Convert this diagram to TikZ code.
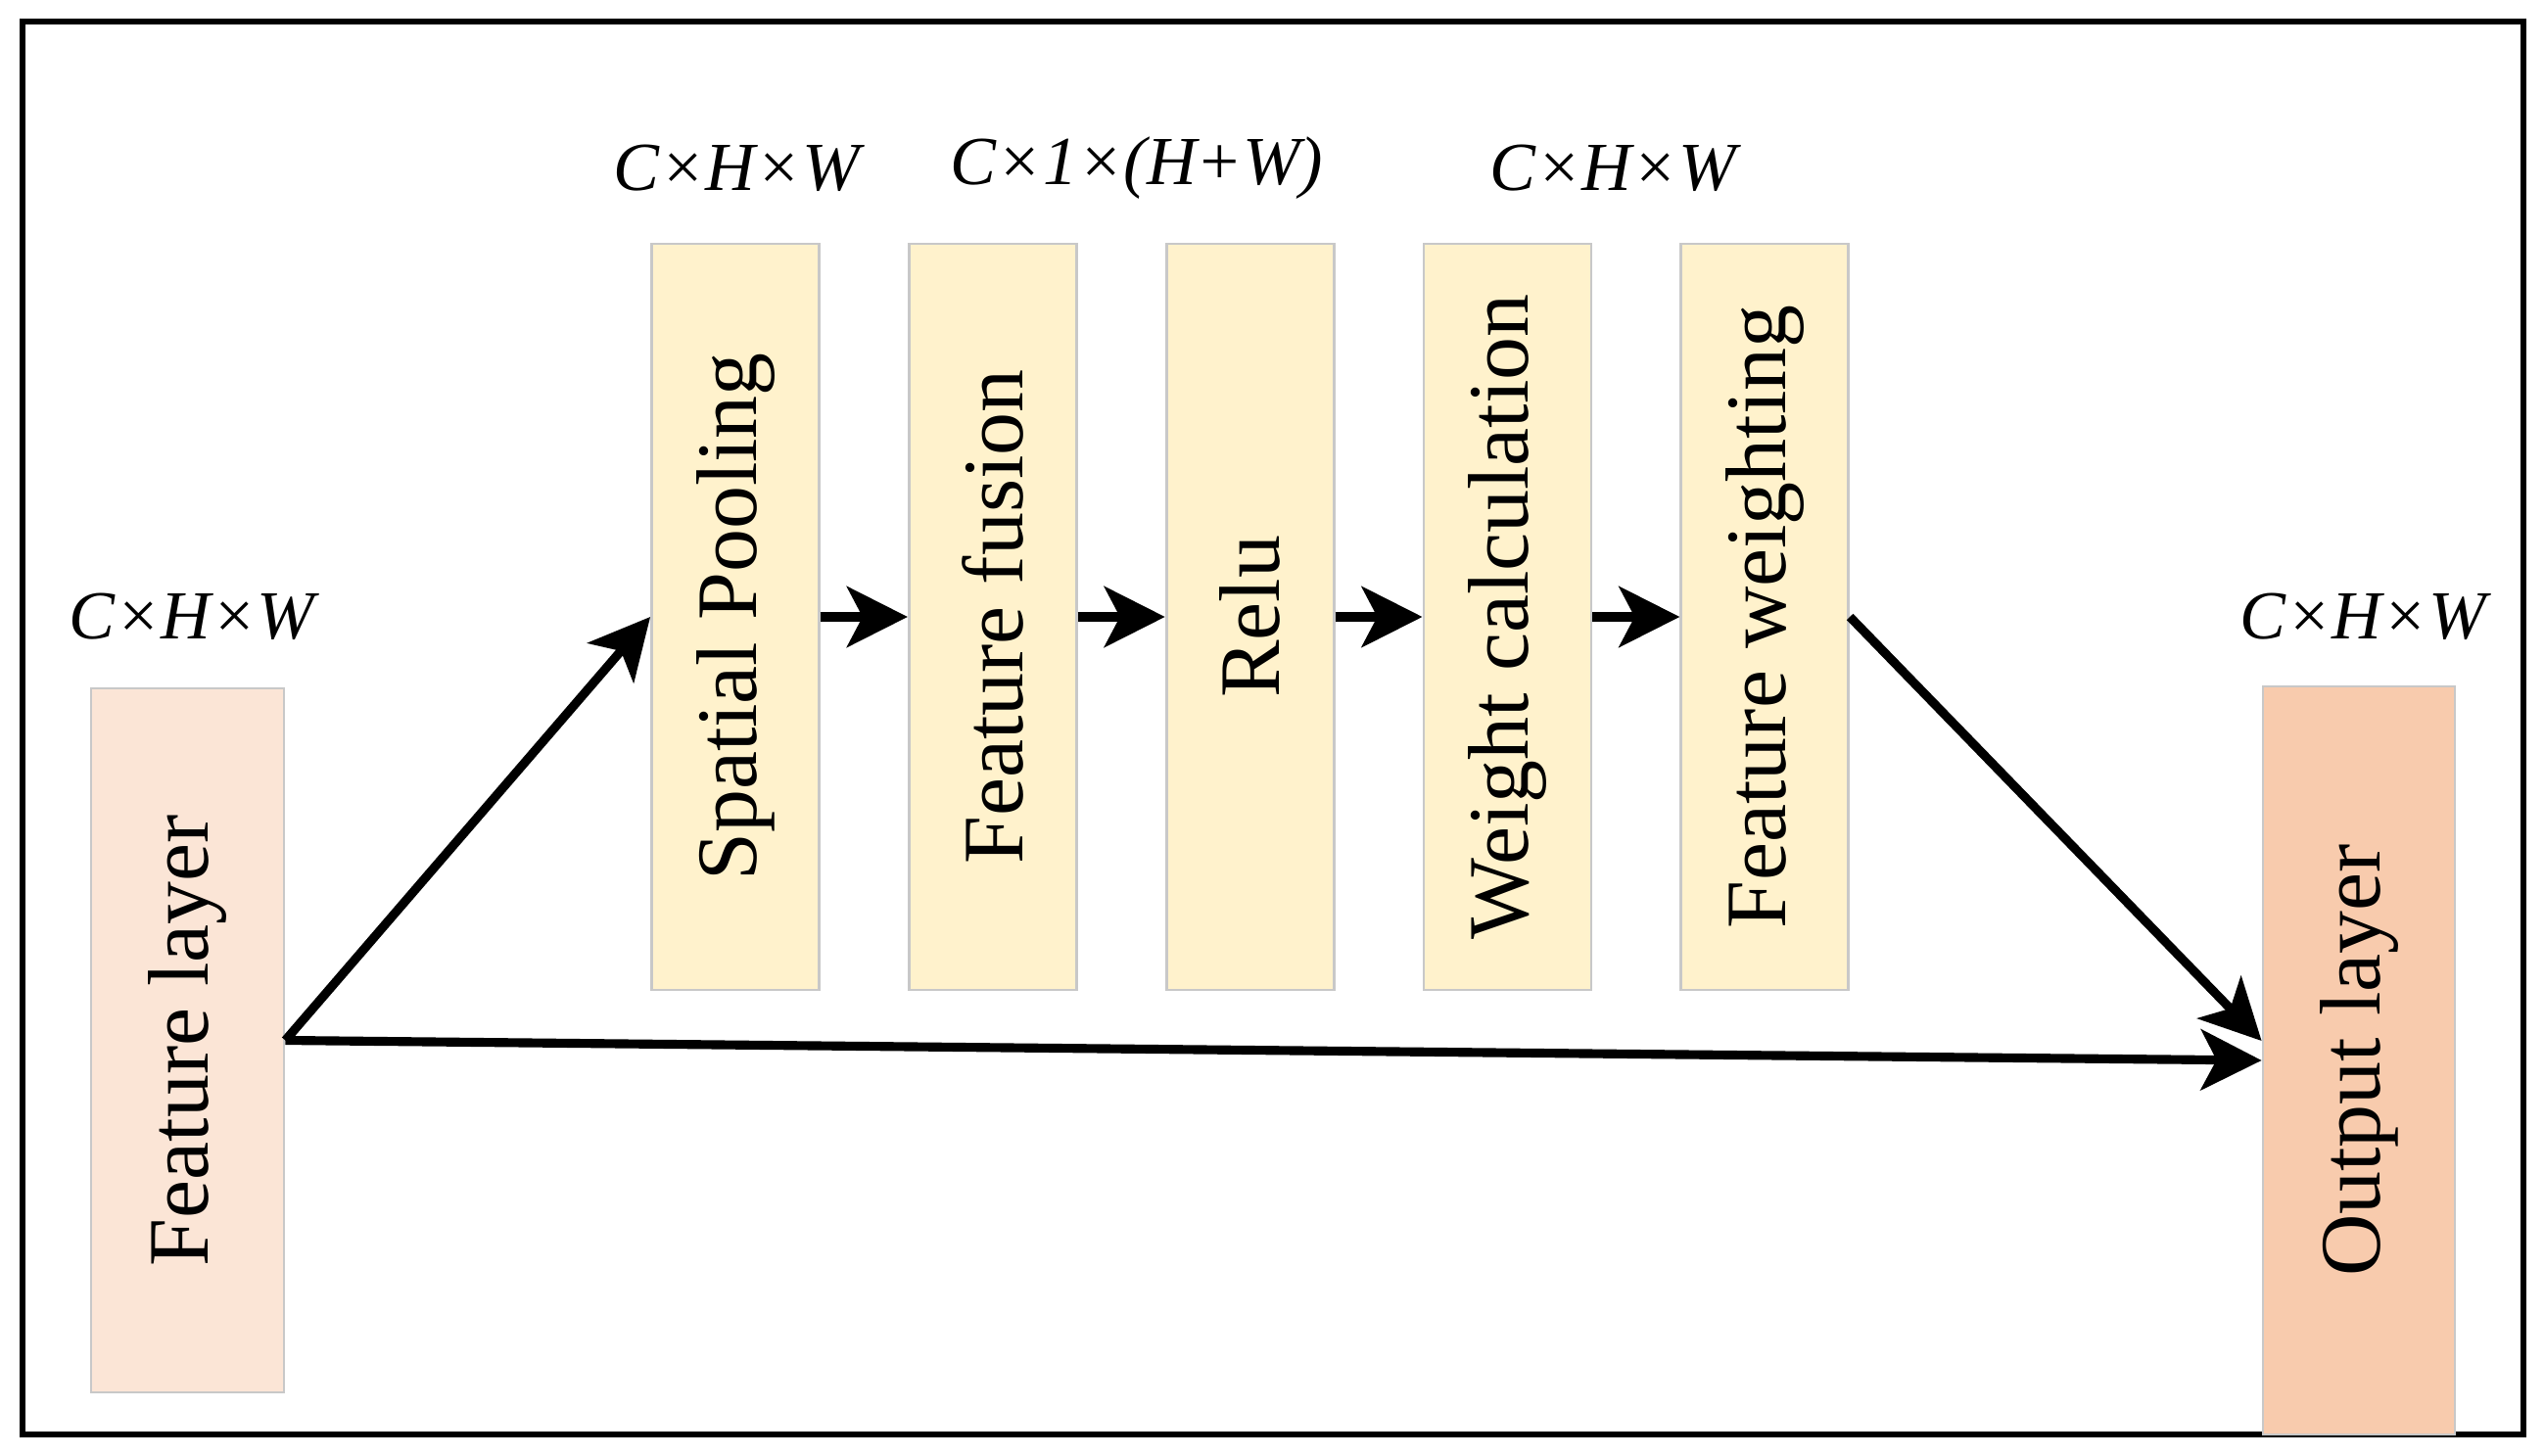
\documentclass[tikz,border=0pt]{standalone}
\usepackage{fontspec}
\setmainfont{Liberation Serif}
\usepackage{tikz}
\usetikzlibrary{arrows.meta,positioning}
\definecolor{stageyellow}{HTML}{FFF2CC}
\definecolor{inpeach}{HTML}{FBE5D6}
\definecolor{outpeach}{HTML}{F8CBAD}
\definecolor{edgegray}{HTML}{C8C8C8}
\tikzstyle{stage} = [draw=edgegray, line width=0.8pt, fill=stageyellow, minimum width=1.71cm, minimum height=7.62cm, inner sep=0pt, font=\fontsize{25}{30}\selectfont]
\tikzstyle{arrow} = [draw, line width=2.6pt, -{Stealth[length=0.62cm, width=0.62cm, inset=0.16cm]}]
\tikzstyle{dims} = [inner sep=0pt, font=\fontsize{20}{24}\selectfont\itshape]

\begin{document}
\begin{tikzpicture}

  \useasboundingbox (0,0) rectangle (25.98,-14.87);
  \draw[line width=1.6pt] (0.23,-0.22) rectangle (25.77,-14.65);

  \node[stage, fill=inpeach, minimum width=1.97cm, minimum height=7.19cm] (feat) at (1.915,-10.625) {\rotatebox{90}{Feature layer}};
  \node[stage] (pool) at (7.51,-6.30) {\rotatebox{90}{Spatial Pooling}};
  \node[stage, right=0.89cm of pool] (fuse) {\rotatebox{90}{Feature fusion}};
  \node[stage, right=0.89cm of fuse] (relu) {\rotatebox{90}{Relu}};
  \node[stage, right=0.89cm of relu] (wcalc) {\rotatebox{90}{Weight calculation}};
  \node[stage, right=0.89cm of wcalc] (wfeat) {\rotatebox{90}{Feature weighting}};
  \node[stage, fill=outpeach, minimum width=1.96cm, minimum height=7.64cm] (out) at (24.09,-10.83) {\rotatebox{90}{Output layer}};

  % tensor sizes
  \node[dims] (featdim) at (1.96,-6.30) {C×H×W};
  \node[dims] (pooldim) at (7.52,-1.72) {C×H×W};
  \node[dims] (fusedim) at (11.61,-1.72) {C×1×(H+W)};
  \node[dims] (wdim) at (16.47,-1.72) {C×H×W};
  \node[dims] (outdim) at (24.13,-6.30) {C×H×W};

  \draw[arrow] (feat.east) -- (pool.west);
  \draw[arrow] (pool) -- (fuse);
  \draw[arrow] (fuse) -- (relu);
  \draw[arrow] (relu) -- (wcalc);
  \draw[arrow] (wcalc) -- (wfeat);
  \draw[arrow] (wfeat.east) -- ([yshift=0.2cm]out.west);
  \draw[arrow] (feat.east) -- (out.west);

\end{tikzpicture}
\end{document}
